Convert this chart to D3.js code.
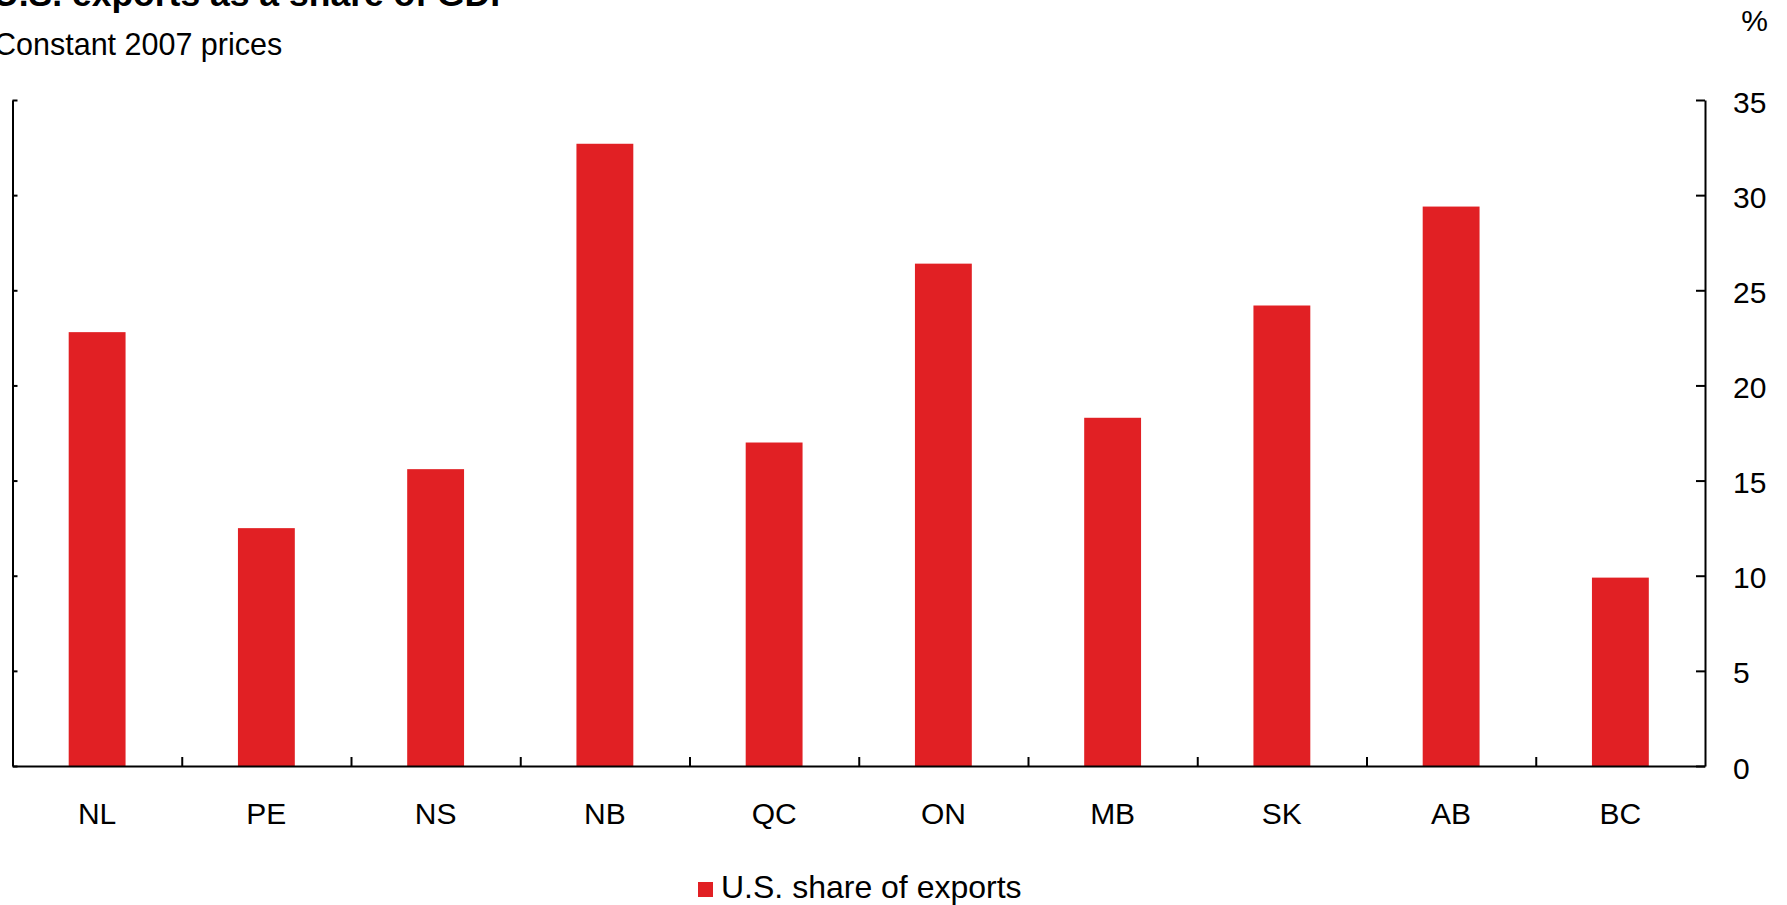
<!DOCTYPE html>
<html>
<head>
<meta charset="utf-8">
<script src="https://cdn.jsdelivr.net/npm/d3@7"></script>
<style>
  html, body { margin: 0; padding: 0; background: #fff; overflow: hidden; }
  svg text { font-family: "Liberation Sans", Arial, sans-serif; fill: #000; }
</style>
</head>
<body>
<svg id="chart" width="1787" height="905"></svg>
<script>
const categories = ["NL", "PE", "NS", "NB", "QC", "ON", "MB", "SK", "AB", "BC"];
const usShare = [22.8, 12.5, 15.6, 32.7, 17.0, 26.4, 18.3, 24.2, 29.4, 9.9];
const yTicks = [0, 5, 10, 15, 20, 25, 30, 35];
const seriesName = "U.S. share of exports";
const titleText = "U.S. exports as a share of GDP";
const subtitleText = "Constant 2007 prices";
const unitText = "%";

const plotLeft = 12.5, plotRight = 1705, plotTop = 100, plotBottom = 766;
const red = "#e12024";

const svg = d3.select("#chart");

const x = d3.scaleBand().domain(categories).range([plotLeft, plotRight])
  .paddingInner(0.664).paddingOuter(0.332);
const xIdx = d3.scaleLinear().domain([0, categories.length]).range([plotLeft, plotRight]);
const y = d3.scaleLinear().domain([0, 35]).range([plotBottom, plotTop]);

// bars
svg.append("g").selectAll("rect").data(categories).join("rect")
  .attr("x", d => x(d))
  .attr("width", x.bandwidth())
  .attr("y", (d, i) => y(usShare[i]))
  .attr("height", (d, i) => y(0) - y(usShare[i]))
  .attr("fill", red);

// left axis (ticks inward, no labels)
svg.append("g").attr("transform", `translate(${plotLeft},0)`)
  .call(d3.axisLeft(y).tickValues(yTicks).tickSize(-5).tickSizeOuter(0).tickFormat(""));

// right axis (ticks inward, labels outside)
const gR = svg.append("g").attr("transform", `translate(${plotRight},0)`)
  .call(d3.axisRight(y).tickValues(yTicks).tickSize(-9).tickSizeOuter(0).tickPadding(28));
gR.selectAll("text").attr("dy", "0.4em").style("font-size", "30px");

// bottom axis: boundary ticks
svg.append("g").attr("transform", `translate(0,${plotBottom})`)
  .call(d3.axisBottom(xIdx).tickValues(d3.range(1, categories.length)).tickSize(-9).tickSizeOuter(0).tickFormat(""));

// category labels
const gC = svg.append("g").attr("transform", `translate(0,${plotBottom})`)
  .call(d3.axisBottom(x).tickSize(0).tickPadding(37));
gC.select(".domain").remove();
gC.selectAll("text").style("font-size", "30px");

svg.selectAll(".domain, .tick line").attr("stroke", "#000").attr("stroke-width", 2);

// titles
svg.append("text").attr("x", -7).attr("y", 6)
  .style("font-size", "35.5px").style("font-weight", "bold").text(titleText);
svg.append("text").attr("x", -6).attr("y", 55)
  .style("font-size", "30.5px").text(subtitleText);
svg.append("text").attr("x", 1768).attr("y", 31).attr("text-anchor", "end")
  .style("font-size", "30px").text(unitText);

// legend
const lg = svg.append("g");
lg.append("rect").attr("x", 698).attr("y", 882).attr("width", 15).attr("height", 15).attr("fill", red);
lg.append("text").attr("x", 721).attr("y", 898).style("font-size", "32px").text(seriesName);
</script>
</body>
</html>
